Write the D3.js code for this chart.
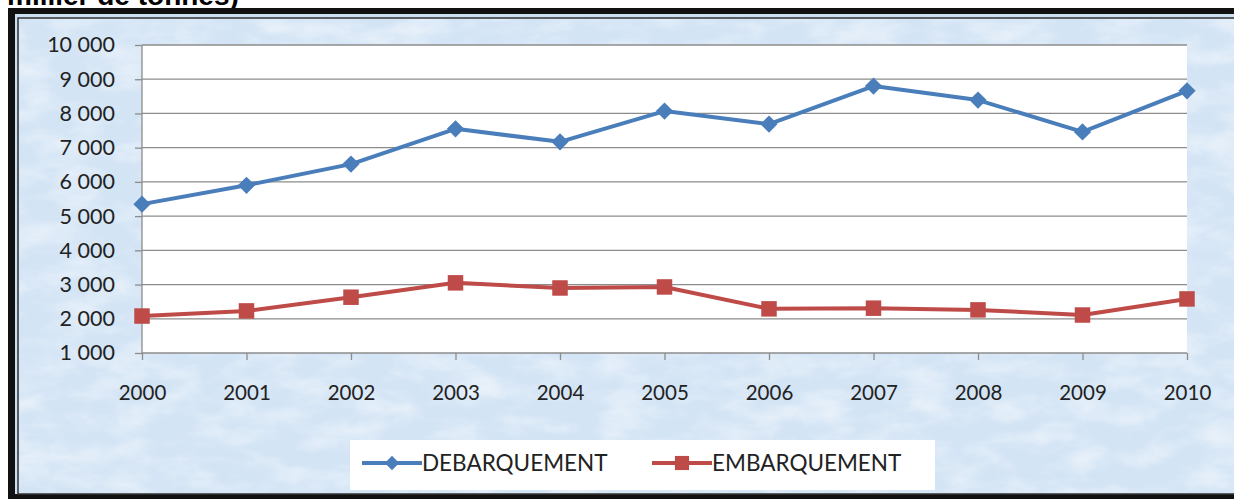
<!DOCTYPE html>
<html>
<head>
<meta charset="utf-8">
<script src="https://cdn.jsdelivr.net/npm/d3@7"></script>
<style>
  body { margin: 0; background: #fff; }
  svg { display: block; }
  .axis text { font-family: Lato, "Open Sans", sans-serif; font-size: 20.5px; fill: #222; }
  .yaxis text { font-size: 21.5px; }
</style>
</head>
<body>
<svg id="chart" width="1234" height="499"></svg>
<script>
// years on the x axis
var years = [2000, 2001, 2002, 2003, 2004, 2005, 2006, 2007, 2008, 2009, 2010];
// thousand tonnes
var debarquement = [5350, 5900, 6520, 7550, 7170, 8070, 7690, 8800, 8390, 7460, 8660];
var embarquement = [2080, 2230, 2630, 3050, 2900, 2930, 2290, 2310, 2260, 2110, 2580];
var yTicks = [1000, 2000, 3000, 4000, 5000, 6000, 7000, 8000, 9000, 10000];
var seriesNames = ["DEBARQUEMENT", "EMBARQUEMENT"];

var svg = d3.select("#chart");

// background texture (light blue paper look)
var defs = svg.append("defs");
var f = defs.append("filter").attr("id", "paper")
    .attr("x", 0).attr("y", 0).attr("width", "100%").attr("height", "100%");
f.append("feTurbulence").attr("type", "fractalNoise")
    .attr("baseFrequency", "0.02 0.045").attr("numOctaves", 4).attr("seed", 7);
f.append("feColorMatrix").attr("type", "matrix")
    .attr("values", "0 0 0 0 1  0 0 0 0 1  0 0 0 0 1  0 0 0 1.3 -0.5");

// title, cut off at the top like the source
svg.append("text")
    .attr("x", 7).attr("y", 5)
    .style("font-family", "Liberation Sans, Arial, sans-serif")
    .style("font-weight", "bold").style("font-size", "28px")
    .text("millier de tonnes)");

// frame
svg.append("rect").attr("x", 8).attr("y", 8).attr("width", 1240).attr("height", 500).attr("fill", "#111");
svg.append("rect").attr("x", 15).attr("y", 14).attr("width", 1230).attr("height", 480).attr("fill", "#cddff2");
svg.append("rect").attr("x", 18).attr("y", 18).attr("width", 1230).attr("height", 476).attr("fill", "#d3e4f5")
    .attr("stroke", "#333").attr("stroke-width", 1.5);
svg.append("rect").attr("x", 19).attr("y", 19).attr("width", 1230).attr("height", 474)
    .attr("filter", "url(#paper)").attr("opacity", 0.75);

var margin = { left: 142, right: 1187, top: 45, bottom: 353 };

var x = d3.scalePoint().domain(years).range([margin.left, margin.right]);
var y = d3.scaleLinear().domain([1000, 10000]).range([margin.bottom, margin.top]);

// plot area
svg.append("rect")
    .attr("x", margin.left).attr("y", margin.top)
    .attr("width", margin.right - margin.left).attr("height", margin.bottom - margin.top)
    .attr("fill", "#fff");

// gridlines
svg.append("g").selectAll("line").data(yTicks.slice(1)).join("line")
    .attr("x1", margin.left).attr("x2", margin.right)
    .attr("y1", function(d) { return y(d); }).attr("y2", function(d) { return y(d); })
    .attr("stroke", "#8c8c8c").attr("stroke-width", 1.3);

var fr = d3.formatLocale({ decimal: ",", thousands: " ", grouping: [3], currency: ["", " €"] });
var fmt = fr.format(",d");

var yAxis = svg.append("g").attr("class", "axis yaxis")
    .attr("transform", "translate(" + margin.left + ",0)")
    .call(d3.axisLeft(y).tickValues(yTicks).tickFormat(fmt).tickSize(7).tickPadding(20));
var xAxis = svg.append("g").attr("class", "axis")
    .attr("transform", "translate(0," + margin.bottom + ")")
    .call(d3.axisBottom(x).tickSize(7).tickPadding(25));
svg.selectAll(".axis path, .axis line").attr("stroke", "#8c8c8c").attr("stroke-width", 1.3);
xAxis.select("path").attr("d", "M" + margin.left + ",0H" + margin.right);
yAxis.select("path").attr("d", "M0," + margin.bottom + "V" + margin.top);

var colors = ["#4a7ebb", "#be4b48"];
var data = [debarquement, embarquement];

var line = d3.line()
    .x(function(d, i) { return x(years[i]); })
    .y(function(d) { return y(d); });

data.forEach(function(vals, k) {
    svg.append("path").datum(vals)
        .attr("d", line).attr("fill", "none")
        .attr("stroke", colors[k]).attr("stroke-width", 4).attr("stroke-linejoin", "round");
});

var diamond = d3.symbol().type(d3.symbolDiamond2).size(190);
var square = d3.symbol().type(d3.symbolSquare).size(240);

svg.append("g").selectAll("path").data(debarquement).join("path")
    .attr("transform", function(d, i) { return "translate(" + x(years[i]) + "," + y(d) + ")"; })
    .attr("d", diamond).attr("fill", colors[0]);
svg.append("g").selectAll("path").data(embarquement).join("path")
    .attr("transform", function(d, i) { return "translate(" + x(years[i]) + "," + y(d) + ")"; })
    .attr("d", square).attr("fill", colors[1]);

// legend
var lg = svg.append("g");
lg.append("rect").attr("x", 350).attr("y", 440).attr("width", 585).attr("height", 50).attr("fill", "#fff");
var legendX = [362, 652];
var legendSym = [d3.symbol().type(d3.symbolDiamond2).size(130), d3.symbol().type(d3.symbolSquare).size(200)];
seriesNames.forEach(function(name, k) {
    var g = lg.append("g").attr("transform", "translate(" + legendX[k] + ",463)");
    g.append("line").attr("x1", 0).attr("x2", 60).attr("stroke", colors[k]).attr("stroke-width", 4);
    g.append("path").attr("transform", "translate(30,0)").attr("d", legendSym[k]).attr("fill", colors[k]);
    g.append("text").attr("x", 60).attr("dy", "0.35em")
        .style("font-family", "Lato, Open Sans, sans-serif").style("font-size", "22.5px").attr("fill", "#222")
        .text(name);
});
</script>
</body>
</html>
